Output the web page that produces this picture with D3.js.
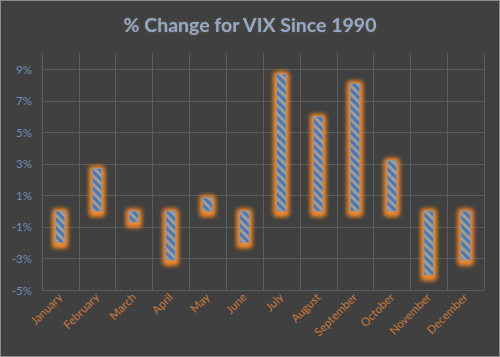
<!DOCTYPE html>
<html><head><meta charset="utf-8">
<script src="https://cdn.jsdelivr.net/npm/d3@7/dist/d3.min.js"></script>
<style>html,body{margin:0;padding:0;background:#404040;}svg{display:block;}</style>
</head><body>
<svg id="chart" width="500" height="357"></svg>
<script>
const months = ["January","February","March","April","May","June","July","August","September","October","November","December"];
const values = [-2.0, 2.7, -0.7, -3.1, 0.85, -2.0, 8.7, 6.0, 8.1, 3.2, -4.05, -3.1];
const tickValues = [-5, -3, -1, 1, 3, 5, 7, 9];
const titleText = "% Change for VIX Since 1990";

const W = 500, H = 357;
const svg = d3.select("#chart");
const defs = svg.append("defs");

const pat = defs.append("pattern").attr("id","hatch").attr("patternUnits","userSpaceOnUse")
  .attr("width",6).attr("height",6).attr("patternTransform","rotate(-45)");
pat.append("rect").attr("width",6).attr("height",6).attr("fill","#4a78b4");
pat.append("rect").attr("width",3).attr("height",6).attr("fill","#a39b94");

const glow = defs.append("filter").attr("id","glow").attr("x","-100%").attr("y","-50%").attr("width","300%").attr("height","200%");
glow.append("feGaussianBlur").attr("stdDeviation",2.4).attr("result","b");
const gm = glow.append("feMerge");
gm.append("feMergeNode").attr("in","b");
gm.append("feMergeNode").attr("in","b");

const tglow = defs.append("filter").attr("id","tglow").attr("x","-10%").attr("y","-30%").attr("width","120%").attr("height","160%");
tglow.append("feGaussianBlur").attr("in","SourceAlpha").attr("stdDeviation",1.2).attr("result","b");
tglow.append("feFlood").attr("flood-color","#c08a5a").attr("flood-opacity",0.35);
tglow.append("feComposite").attr("in2","b").attr("operator","in").attr("result","g");
const mg = tglow.append("feMerge");
mg.append("feMergeNode").attr("in","g");
mg.append("feMergeNode").attr("in","SourceGraphic");

svg.append("rect").attr("x",0.5).attr("y",0.5).attr("width",W-1).attr("height",H-1)
  .attr("fill","#404040").attr("stroke","#8c8c8c");

const x = d3.scaleBand().domain(months).range([41.7, 484]).padding(0);
const y = d3.scaleLinear().domain([-5, 10]).range([290, 53.5]);

// horizontal gridlines
svg.append("g").selectAll("line").data(tickValues).join("line")
  .attr("x1",x.range()[0]).attr("x2",x.range()[1])
  .attr("y1",d=>Math.round(y(d))+0.5).attr("y2",d=>Math.round(y(d))+0.5)
  .attr("stroke","#5c5c5c").attr("stroke-width",1);

// vertical gridlines
const vx = months.map(m=>x(m)).concat([x.range()[1]]);
svg.append("g").selectAll("line").data(vx).join("line")
  .attr("x1",d=>Math.round(d)+0.5).attr("x2",d=>Math.round(d)+0.5)
  .attr("y1",y(10)).attr("y2",y(-5))
  .attr("stroke","#5c5c5c").attr("stroke-width",1);

// y-axis
const yAxis = d3.axisLeft(y).tickValues(tickValues).tickSize(0).tickPadding(0)
  .tickFormat(d=>d+"%");
const ya = svg.append("g").attr("transform","translate(32,0)").call(yAxis);
ya.select(".domain").remove();
ya.selectAll("text").attr("fill","#6f8db5").attr("font-family","Lato, 'Open Sans', sans-serif")
  .attr("font-size",11.5).attr("dy","0.35em");

// bars
const bw = 9.6;
const bars = svg.append("g");
bars.selectAll("rect.glow").data(values).join("rect").attr("class","glow")
  .attr("x",(d,i)=>x(months[i])+x.bandwidth()/2-bw/2-2)
  .attr("y",d=>Math.min(y(d),y(0))-1.5)
  .attr("width",bw+4)
  .attr("height",d=>Math.abs(y(d)-y(0))+6)
  .attr("fill","#f2862a").attr("filter","url(#glow)");
bars.selectAll("rect.bar").data(values).join("rect").attr("class","bar")
  .attr("x",(d,i)=>x(months[i])+x.bandwidth()/2-bw/2)
  .attr("y",d=>Math.min(y(d),y(0)))
  .attr("width",bw)
  .attr("height",d=>Math.abs(y(d)-y(0)))
  .attr("fill","url(#hatch)").attr("stroke","#9c9690").attr("stroke-width",1);

// x-axis labels
const xa = svg.append("g");
xa.selectAll("text").data(months).join("text")
  .attr("transform",m=>`translate(${x(m)+x.bandwidth()/2+3},${298}) rotate(-45)`)
  .attr("text-anchor","end")
  .attr("fill","#c87a3e").attr("font-family","Lato, 'Open Sans', sans-serif")
  .attr("font-size",11.5).text(m=>m);

// title
svg.append("text").attr("x",250).attr("y",32).attr("text-anchor","middle")
  .attr("font-family","Lato, 'Open Sans', sans-serif").attr("font-weight","bold")
  .attr("font-size",19.5).attr("fill","#93a9c6").attr("filter","url(#tglow)").text(titleText);
</script>
</body></html>
